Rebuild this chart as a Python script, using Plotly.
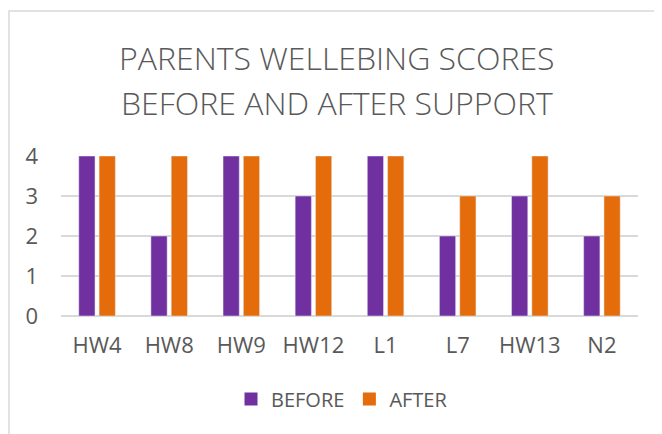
import plotly.graph_objects as go

categories = ["HW4", "HW8", "HW9", "HW12", "L1", "L7", "HW13", "N2"]
before = [4, 2, 4, 3, 4, 2, 3, 2]
after = [4, 4, 4, 4, 4, 3, 4, 3]
series_names = ["BEFORE", "AFTER"]
y_ticks = [0, 1, 2, 3, 4]
title_lines = ["PARENTS WELLEBING SCORES", "BEFORE AND AFTER SUPPORT"]

OFF = 8  # default page body margin
W, H = 662 - OFF, 434 - OFF
L, R, T, B = 61 - OFF, 24, 156 - OFF, 118
FONT = "Open Sans"
GRAY = "#595959"
COLORS = ["#7030A0", "#E46C0A"]

fig = go.Figure()
for vals, name, col in zip([before, after], series_names, COLORS):
    fig.add_trace(go.Bar(x=categories, y=vals, name=name, marker_color=col, showlegend=False))
# legend entries with larger square swatches
for name, col in zip(series_names, COLORS):
    fig.add_trace(go.Scatter(x=[None], y=[None], mode="markers", name=name,
                             marker=dict(symbol="square", size=13, color=col)))

pw = W - L - R
ph = H - T - B
def px_x(p):
    return (p - OFF - L) / pw
def px_y(p):
    return (H - B - (p - OFF)) / ph

fig.update_layout(
    width=W, height=H,
    margin=dict(l=L, r=R, t=T, b=B),
    paper_bgcolor="white", plot_bgcolor="white",
    barmode="group", bargap=0.437, bargroupgap=0.2,
    font=dict(family=FONT, color=GRAY, size=22),
    showlegend=True,
    legend=dict(orientation="h", xref="paper", yref="paper",
                x=px_x(342), y=px_y(399), xanchor="center", yanchor="middle",
                font=dict(size=20, color=GRAY), traceorder="normal", itemwidth=30),
    xaxis=dict(showgrid=False, showline=False, ticks="", ticklabelstandoff=14,
               tickfont=dict(size=22, color=GRAY)),
    yaxis=dict(range=[0, 4], tickvals=y_ticks, showgrid=True, gridcolor="#D9D9D9",
               gridwidth=1.5, zeroline=True, zerolinecolor="#D9D9D9", zerolinewidth=1.5,
               showline=False, ticks="", ticklabelstandoff=22,
               tickfont=dict(size=22, color=GRAY)),
    shapes=[dict(type="rect", xref="paper", yref="paper",
                 x0=px_x(9), x1=px_x(700), y0=px_y(11), y1=px_y(500),
                 line=dict(color="#D9D9D9", width=1.5), fillcolor="rgba(0,0,0,0)", layer="below")],
)
for i, line in enumerate(title_lines):
    fig.add_annotation(text=line, xref="paper", yref="paper",
                       x=px_x(337), y=px_y(57 + 45 * i), xanchor="center", yanchor="middle",
                       showarrow=False, font=dict(family=FONT, size=32, color=GRAY, weight=350))

fig.write_html("out.html")
